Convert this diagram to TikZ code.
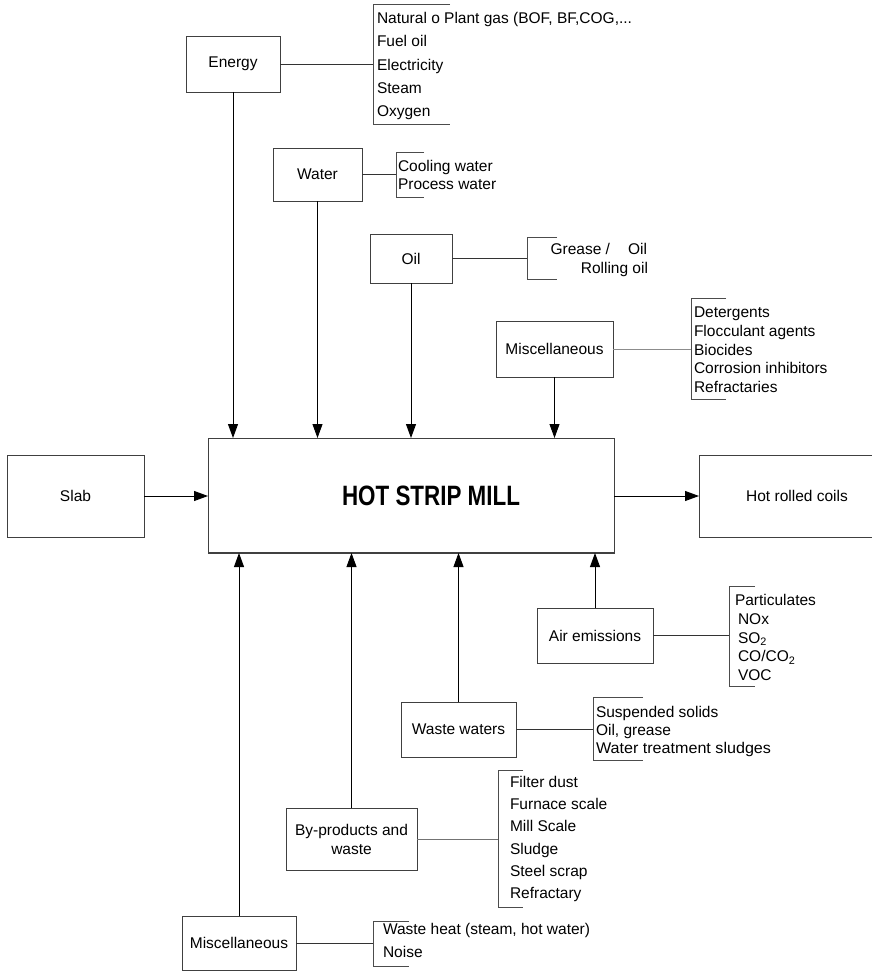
\documentclass[tikz,border=0pt]{standalone}
\usepackage{fontspec}
\setmainfont{Liberation Sans}
\usepackage{graphicx}
\usetikzlibrary{arrows.meta}
\begin{document}
\begin{tikzpicture}[x=1pt,y=-1pt,
  box/.style={draw=black!75,line width=0.9pt,rectangle,inner sep=0pt,outer sep=0pt,align=center,font=\fontsize{15.5}{19}\selectfont},
  item/.style={anchor=base west,inner sep=0pt,outer sep=0pt,font=\fontsize{15.5}{19}\selectfont},
  link/.style={draw=black!80,line width=0.9pt},
  brk/.style={draw=black!70,line width=0.9pt},
  arr/.style={draw=black,line width=0.9pt,-{Triangle[length=14pt,width=10pt]}}]
\useasboundingbox (0,0) rectangle (871,971);
% boxes
\node[box,minimum width=94pt,minimum height=56pt] (energy) at (233,64) {Energy};
\node[box,minimum width=89pt,minimum height=53pt] (water) at (317.5,174.5) {Water};
\node[box,minimum width=82pt,minimum height=49pt] (oil) at (411,258.5) {Oil};
\node[box,minimum width=117pt,minimum height=56pt] (misctop) at (554.5,349) {Miscellaneous};
\node[box,minimum width=137pt,minimum height=82pt] (slab) at (75.5,496) {Slab};
\node[box,minimum width=406pt,minimum height=115pt] (mill) at (411,495.5) {};
\node[inner sep=0pt] (milltext) at (431,496) {\scalebox{0.8}[1]{\bfseries\fontsize{28}{30}\selectfont HOT STRIP MILL}};
\node[box,minimum width=196pt,minimum height=82pt] (coils) at (797,496) {Hot rolled coils};
\node[box,minimum width=116pt,minimum height=55pt] (air) at (595,635.5) {Air emissions};
\node[box,minimum width=115pt,minimum height=55pt] (waste) at (458.5,729.5) {Waste waters};
\node[box,minimum width=131pt,minimum height=62pt] (byprod) at (351.5,839) {By-products and\\waste};
\node[box,minimum width=114pt,minimum height=54pt] (miscbot) at (239,943) {Miscellaneous};
\draw[draw=black!75,line width=1.8pt] (mill.south west) -- (mill.south east);
% main flow
\draw[arr] (slab.east) -- (slab.east -| mill.west);
\draw[arr] (mill.east |- coils.west) -- (coils.west);
% inputs
\draw[arr] (energy.south) -- (energy.south |- mill.north);
\draw[arr] (water.south) -- (water.south |- mill.north);
\draw[arr] (oil.south) -- (oil.south |- mill.north);
\draw[arr] (misctop.south) -- (misctop.south |- mill.north);
% outputs
\draw[arr] (air.north) -- (air.north |- mill.south);
\draw[arr] (waste.north) -- (waste.north |- mill.south);
\draw[arr] (byprod.north) -- (byprod.north |- mill.south);
\draw[arr] (miscbot.north) -- (miscbot.north |- mill.south);
% brackets and lists
% Energy
\coordinate (eb) at (373,64);
\draw[brk] (450,4) -- (373,4) -- (373,124) -- (450,124);
\draw[link] (energy.east) -- (eb);
\node[item] (e1) at (377,23.5) {Natural o Plant gas (BOF, BF,COG,...};
\node[item] (e2) at (377,47) {Fuel oil};
\node[item] (e3) at (377,70.5) {Electricity};
\node[item] (e4) at (377,93.5) {Steam};
\node[item] (e5) at (377,116.5) {Oxygen};
% Water
\coordinate (wb) at (396,174.5);
\draw[brk] (424,152) -- (396,152) -- (396,197) -- (424,197);
\draw[link] (water.east) -- (wb);
\node[item] (w1) at (398,171.5) {Cooling water};
\node[item] (w2) at (398,189) {Process water};
% Oil
\coordinate (ob) at (527,258.5);
\draw[brk] (557,237) -- (527,237) -- (527,279) -- (557,279);
\draw[link] (oil.east) -- (ob);
\node[item,anchor=base east] (o1) at (647,254.5) {Grease /\hspace{18pt}Oil};
\node[item,anchor=base east] (o2) at (648,273.5) {Rolling oil};
% Misc top
\coordinate (mb) at (691,349);
\draw[brk] (726,298) -- (691,298) -- (691,399) -- (726,399);
\draw[draw=black!45,line width=0.8pt] (misctop.east) -- (mb);
\node[item] (m1) at (694,317.5) {Detergents};
\node[item] (m2) at (694,336.5) {Flocculant agents};
\node[item] (m3) at (694,355) {Biocides};
\node[item] (m4) at (694,373.5) {Corrosion inhibitors};
\node[item] (m5) at (694,392) {Refractaries};
% Air emissions
\coordinate (ab) at (729,635.5);
\draw[brk] (755,586) -- (729,586) -- (729,686) -- (755,686);
\draw[link] (air.east) -- (ab);
\node[item] (a1) at (735,605.5) {Particulates};
\node[item] (a2) at (738,624.5) {NOx};
\node[item] (a3) at (738,643) {SO\textsubscript{2}};
\node[item] (a4) at (738,661.5) {CO/CO\textsubscript{2}};
\node[item] (a5) at (738,680) {VOC};
% Waste waters
\coordinate (wwb) at (593,729.5);
\draw[brk] (643,697) -- (593,697) -- (593,760) -- (643,760);
\draw[link] (waste.east) -- (wwb);
\node[item] (ww1) at (596,717.5) {Suspended solids};
\node[item] (ww2) at (596,735) {Oil, grease};
\node[item] (ww3) at (596,753) {\scalebox{1.04}[1]{Water treatment sludges}};
% By-products
\coordinate (bb) at (498,839);
\draw[brk] (523,770) -- (498,770) -- (498,907) -- (523,907);
\draw[draw=black!55,line width=0.9pt] (byprod.east) -- (bb);
\node[item] (b1) at (510,787.5) {Filter dust};
\node[item] (b2) at (510,809.5) {Furnace scale};
\node[item] (b3) at (510,831.5) {Mill Scale};
\node[item] (b4) at (510,854) {Sludge};
\node[item] (b5) at (510,876) {Steel scrap};
\node[item] (b6) at (510,898.5) {Refractary};
% Misc bottom
\coordinate (mbb) at (373,943);
\draw[brk] (409,921) -- (373,921) -- (373,966) -- (409,966);
\draw[link] (miscbot.east) -- (mbb);
\node[item] (n1) at (383,934.5) {Waste heat (steam, hot water)};
\node[item] (n2) at (383,957.5) {Noise};
\end{tikzpicture}
\end{document}
